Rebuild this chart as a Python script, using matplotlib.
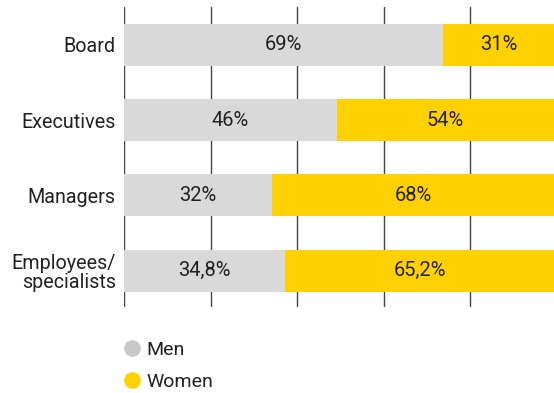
import matplotlib
matplotlib.use("Agg")
import matplotlib.pyplot as plt
from matplotlib.lines import Line2D

categories = ["Board", "Executives", "Managers", "Employees/\nspecialists"]
men = [69, 46, 32, 34.8]
women = [31, 54, 68, 65.2]
men_labels = ["69%", "46%", "32%", "34,8%"]
women_labels = ["31%", "54%", "68%", "65,2%"]
series_names = ["Men", "Women"]

plt.rcParams['font.family'] = ['Roboto', 'DejaVu Sans']

MEN_C = "#d9d9d9"
WOMEN_C = "#ffd100"
TEXT_C = "#222222"

fig = plt.figure(figsize=(5.54, 3.93), dpi=100)
ax = fig.add_axes([124/554, 86/393, 430/554, 300/393])

xmax = 92.9
grid_step = 18.7
ypos = list(range(len(categories)))
h = 0.556

ax.barh(ypos, men, height=h, color=MEN_C, zorder=2)
ax.barh(ypos, women, left=men, height=h, color=WOMEN_C, zorder=2)

for y, m, w, ml, wl in zip(ypos, men, women, men_labels, women_labels):
    ax.text(m / 2, y, ml, ha="center", va="center", fontsize=14.5, color=TEXT_C, zorder=3)
    right = min(m + w, xmax)
    ax.text((m + right) / 2, y, wl, ha="center", va="center", fontsize=14.5, color=TEXT_C, zorder=3)

ax.set_xlim(0, xmax)
ax.set_ylim(len(categories) - 0.52, -0.5)
ax.set_xticks([grid_step * k for k in range(5)])
ax.set_xticklabels([])
ax.tick_params(axis="x", length=0)
ax.grid(axis="x", color="#444444", linewidth=1, zorder=0)
ax.set_yticks(ypos)
ax.set_yticklabels(categories, fontsize=14.2, color=TEXT_C, linespacing=1.0)
ax.tick_params(axis="y", length=0, pad=6)
for s in ax.spines.values():
    s.set_visible(False)

handles = [
    Line2D([], [], marker="o", linestyle="none", markersize=12, markerfacecolor="#c8c8c8", markeredgecolor="none"),
    Line2D([], [], marker="o", linestyle="none", markersize=12, markerfacecolor=WOMEN_C, markeredgecolor="none"),
]
leg = fig.legend(handles, series_names, loc="upper left", bbox_to_anchor=(120/554, 1 - 341/393),
                 frameon=False, fontsize=14, handletextpad=0.15, labelspacing=0.7,
                 handlelength=1.2, borderaxespad=0, borderpad=0)
for t in leg.get_texts():
    t.set_color(TEXT_C)

fig.savefig("out.png", dpi=100)
